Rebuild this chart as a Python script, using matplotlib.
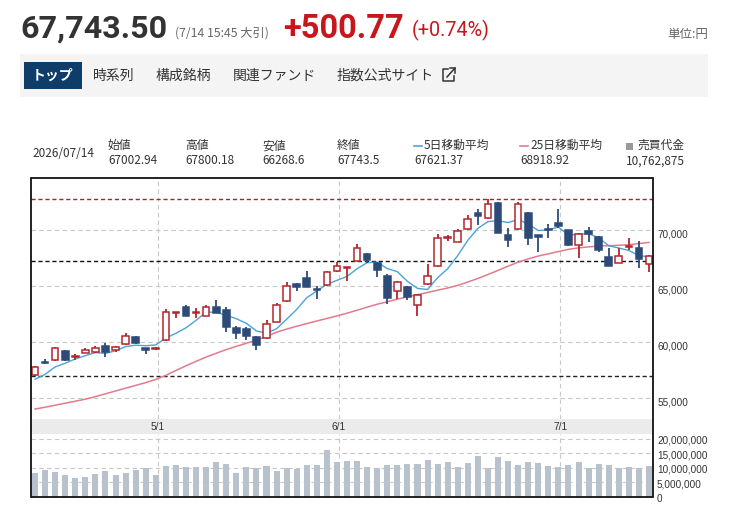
import matplotlib
matplotlib.use('Agg')
import matplotlib.pyplot as plt
from matplotlib.patches import Rectangle
from matplotlib.lines import Line2D
from matplotlib.transforms import ScaledTranslation
import numpy as np

# ---------------- data ----------------
opens = [57080, 58267, 58419, 59223, 58660, 59018, 59107, 59696, 59312, 59821,
         60500, 59464, 59428, 60205, 62589, 63125, 62589, 62321, 63178, 62884,
         61304, 61160, 60500, 60357, 61839, 63687, 65179, 65714, 64759, 65116,
         66339, 66661, 67259, 67857, 67107, 65920, 64580, 64911, 63303, 65179,
         66812, 69312, 68929, 70116, 71571, 71071, 72411, 69580, 70089, 71518,
         69580, 70116, 70696, 70027, 68687, 69938, 69429, 67643, 67107, 68482,
         68393, 67002.94]
highs = [57850, 58482, 59607, 59339, 58955, 59491, 59670, 59964, 59670, 60857,
         60562, 59464, 59607, 62973, 62678, 63357, 63035, 63357, 63776, 63125,
         61482, 61393, 60562, 61991, 63482, 65411, 65268, 66366, 65027, 66393,
         67170, 66723, 68777, 68000, 67196, 66098, 65500, 65027, 64312, 66991,
         69670, 69580, 70089, 71366, 71902, 72768, 72500, 70179, 72500, 71661,
         69580, 70562, 71902, 70071, 69732, 70250, 69518, 68464, 68393, 69286,
         69000, 67800.18]
lows = [56990, 58062, 58357, 58357, 58419, 59018, 59018, 58660, 59160, 59759,
        59821, 58955, 59312, 60142, 62143, 62375, 62143, 62321, 62589, 60946,
        60294, 60205, 59312, 60294, 61786, 63625, 64607, 64964, 63866, 65054,
        66303, 65473, 67259, 67054, 65857, 63393, 63866, 63777, 62348, 65116,
        66750, 69071, 68929, 70054, 70500, 70982, 69732, 68482, 70027, 68687,
        68036, 69312, 70232, 68625, 67553, 68955, 68089, 66812, 67107, 68241,
        66678, 66268.6]
closes = [57821, 58152, 59464, 58419, 58714, 59285, 59518, 59107, 59607, 60562,
          59910, 59285, 59464, 62732, 62616, 62375, 62616, 63178, 62589, 61339,
          60803, 60562, 59759, 61607, 63330, 65027, 64964, 64964, 64643, 66250,
          66839, 66723, 68393, 67348, 66455, 63982, 65357, 64071, 64196, 65946,
          69286, 69339, 69964, 70982, 71277, 72321, 69732, 69134, 72321, 69286,
          69429, 70027, 70402, 68687, 69670, 69714, 68214, 66812, 67705, 68536,
          67437, 67743.5]
ma5 = [56700, 57140, 57800, 58130, 58514, 58807, 59080, 59009, 59246, 59616,
       59741, 59694, 59766, 60391, 60801, 61294, 61961, 62703, 62675, 62419,
       62105, 61694, 61010, 60814, 61212, 62057, 62937, 63978, 64586, 65170,
       65532, 65884, 66570, 67111, 67152, 66580, 66307, 65443, 64812, 64710,
       65771, 66568, 67746, 69103, 70170, 70777, 70855, 70689, 70957, 70559,
       69980, 70039, 70293, 69566, 69643, 69700, 69337, 68619, 68423, 68196,
       67741, 67621.37]
ma25 = [54044, 54200, 54380, 54560, 54740, 54920, 55150, 55400, 55650, 55900,
        56150, 56400, 56680, 57050, 57480, 57900, 58300, 58680, 59020, 59350,
        59640, 59910, 60200, 60520, 60900, 61180, 61430, 61670, 61900, 62130,
        62350, 62600, 62860, 63140, 63400, 63620, 63850, 64060, 64250, 64450,
        64650, 64850, 65080, 65380, 65700, 66050, 66420, 66800, 67150, 67450,
        67700, 67900, 68100, 68300, 68430, 68520, 68590, 68630, 68660, 68710,
        68820, 68918.92]
volume = [8.4, 9.3, 8.7, 7.6, 6.6, 6.9, 7.9, 9.0, 7.6, 8.4,
          9.3, 10.0, 7.6, 10.7, 11.0, 10.3, 10.3, 10.3, 12.1, 11.4,
          8.3, 10.3, 9.9, 10.7, 9.0, 10.0, 9.8, 11.0, 11.0, 16.2,
          12.1, 12.4, 12.4, 10.3, 10.0, 11.0, 11.0, 11.4, 11.4, 12.8,
          11.4, 12.1, 10.3, 11.7, 14.1, 9.9, 13.8, 12.4, 11.0, 12.1,
          11.7, 10.7, 10.3, 11.0, 12.1, 9.9, 11.4, 11.0, 9.9, 10.3,
          10.0, 10.762875]  # millions
month_labels = ['5/1', '6/1', '7/1']
month_index = [12, 30, 52]
price_ticks = [55000, 60000, 65000, 70000]
volume_ticks = [0, 5, 10, 15, 20]  # millions
ref_high = 72790
ref_mid = 67260
ref_low = 56960

info_labels = ['始値', '高値', '安値', '終値', '5日移動平均', '25日移動平均', '売買代金']
info_values = ['67002.94', '67800.18', '66268.6', '67743.5', '67621.37', '68918.92', '10,762,875']
nav_items = ['時系列', '構成銘柄', '関連ファンド', '指数公式サイト']

# ---------------- style ----------------
RED = '#b3262b'
BLUE = '#2d4b78'
MA5C = '#4ba3d8'
MA25C = '#e27b8e'
VOLC = '#b7c2cc'
GRID = '#c8c8c8'
CJK = ['Noto Sans CJK JP', 'DejaVu Sans']

W, H = 730, 513
fig = plt.figure(figsize=(W / 100, H / 100), dpi=100)
fig.patch.set_facecolor('white')


def fx(px):
    return px / W


def fy(py):
    return 1 - py / H


L, R = 31, 653
ax = fig.add_axes([fx(L), fy(419), (R - L) / W, (419 - 178) / H])
axb = fig.add_axes([fx(L), fy(434), (R - L) / W, 15 / H])
axv = fig.add_axes([fx(L), fy(497), (R - L) / W, 63 / H])

n = len(closes)
x = np.arange(n)
xlim = (-0.4, 61.4)
for a in (ax, axb, axv):
    a.set_xlim(*xlim)
    a.set_xticks([])
    a.set_yticks([])
    for s in a.spines.values():
        s.set_visible(False)
    a.patch.set_alpha(0)

ax.set_ylim(53150, 74670)
axv.set_ylim(0, 21.7)
axb.set_ylim(0, 1)
axb.patch.set_alpha(1)
axb.set_facecolor('#ebebeb')

# grid
for t in price_ticks:
    ax.axhline(t, color=GRID, ls=(0, (4, 3)), lw=0.8, zorder=0)
for t in volume_ticks[1:]:
    axv.axhline(t, color=GRID, ls=(0, (4, 3)), lw=0.8, zorder=0)
for mi in month_index:
    ax.axvline(mi + 0.2, color=GRID, ls=(0, (4, 3)), lw=0.8, zorder=0)
    axv.axvline(mi + 0.2, color=GRID, ls=(0, (4, 3)), lw=0.8, zorder=0)

# reference dashed lines
ax.axhline(ref_high, color='#a0282d', ls=(0, (3, 2)), lw=1.0, zorder=1)
ax.axhline(ref_mid, color='#111111', ls=(0, (3, 2)), lw=1.0, zorder=1)
ax.axhline(ref_low, color='#222222', ls=(0, (3, 2)), lw=1.0, zorder=1)

# moving averages
ax.plot(x, ma25, color=MA25C, lw=1.1, zorder=2)
ax.plot(x, ma5, color=MA5C, lw=1.0, zorder=2)

# candles
o = np.array(opens, dtype=float)
c = np.array(closes, dtype=float)
hi = np.array(highs, dtype=float)
lo = np.array(lows, dtype=float)
up = c >= o
cols = [RED if u else BLUE for u in up]
ax.vlines(x, lo, hi, colors=cols, lw=1.3, zorder=3)
body_h = np.maximum(np.abs(c - o), 90)
body_b = np.minimum(o, c)
ax.bar(x, body_h, bottom=body_b, width=0.66,
       facecolor=['white' if u else BLUE for u in up],
       edgecolor=cols, linewidth=1.1, zorder=4)

# volume
axv.bar(x, volume, width=0.6, color=VOLC, zorder=2)

# month labels
for mi, lab in zip(month_index, month_labels):
    axb.text(mi + 0.2, 0.5, lab, ha='center', va='center', fontsize=7.3,
             family='Liberation Sans', color='#333333')

# right axis labels
off_p = ScaledTranslation(5 / 100, -4.7 / 100, fig.dpi_scale_trans)
for t in price_ticks:
    ax.text(1, t, f'{t:,}', transform=ax.get_yaxis_transform() + off_p,
            ha='left', va='center', fontsize=7.2, family='Liberation Sans',
            color='#333333', clip_on=False)
off_v = ScaledTranslation(4 / 100, -2.0 / 100, fig.dpi_scale_trans)
for t in volume_ticks:
    axv.text(1, t, f'{t * 1000000:,}', transform=axv.get_yaxis_transform() + off_v,
             ha='left', va='center', fontsize=7.2, family='Liberation Sans',
             color='#333333', clip_on=False)

# chart box
fig.patches.append(Rectangle((fx(L), fy(497)), (R - L) / W, (497 - 178) / H,
                             fill=False, edgecolor='#111111', lw=1.3,
                             transform=fig.transFigure, zorder=10))

# ---------------- header ----------------
fig.text(fx(20), fy(38), '67,743.50', fontsize=23.2, fontweight='bold',
         family='Roboto', color='#333333', va='baseline')
fig.text(fx(175), fy(37), '(7/14 15:45 大引)', fontsize=8.8, family=CJK,
         color='#666666', va='baseline')
fig.text(fx(283), fy(38), '+500.77', fontsize=23.5, fontweight='bold',
         family='Roboto', color='#c8161d', va='baseline')
fig.text(fx(412), fy(36), '(+0.74%)', fontsize=14.2, family='Roboto',
         color='#c8161d', va='baseline')
fig.text(fx(708), fy(38), '単位:円', fontsize=9, family=CJK,
         color='#666666', va='baseline', ha='right')

# nav bar
fig.patches.append(Rectangle((fx(20), fy(97)), (708 - 20) / W, 43 / H,
                             facecolor='#f4f4f4', edgecolor='none',
                             transform=fig.transFigure, zorder=0))
fig.patches.append(Rectangle((fx(24), fy(89)), 58 / W, 27 / H,
                             facecolor='#0f3d6a', edgecolor='none',
                             transform=fig.transFigure, zorder=1))
fig.text(fx(53), fy(75.5), 'トップ', fontsize=10, fontweight='bold', family=CJK,
         color='white', ha='center', va='center')
for px, item in zip([93, 156, 233, 337], nav_items):
    fig.text(fx(px), fy(75.5), item, fontsize=10, family=CJK,
             color='#333333', ha='left', va='center')
# external link icon
ix0, iy0 = 443, 69
fig.lines.append(Line2D([fx(ix0 + 5), fx(ix0), fx(ix0), fx(ix0 + 11), fx(ix0 + 11)],
                        [fy(iy0), fy(iy0), fy(iy0 + 12), fy(iy0 + 12), fy(iy0 + 7)],
                        transform=fig.transFigure, color='#333333', lw=1.1))
fig.lines.append(Line2D([fx(ix0 + 4), fx(ix0 + 12)], [fy(iy0 + 8), fy(iy0 - 1)],
                        transform=fig.transFigure, color='#333333', lw=1.1))
fig.lines.append(Line2D([fx(ix0 + 7), fx(ix0 + 12), fx(ix0 + 12)],
                        [fy(iy0 - 1), fy(iy0 - 1), fy(iy0 + 4)],
                        transform=fig.transFigure, color='#333333', lw=1.1))

# info row
fig.text(fx(32), fy(153.3), '2026/07/14', fontsize=8.5, family=CJK,
         color='#333333', va='center')
col_x = [108, 185, 262, 337, 414, 520, 626]
for i, (px, lab, val) in enumerate(zip(col_x, info_labels, info_values)):
    tx = px
    if i == 4 or i == 5:
        colr = MA5C if i == 4 else MA25C
        fig.lines.append(Line2D([fx(px), fx(px + 8)], [fy(145.7), fy(145.7)],
                                transform=fig.transFigure, color=colr, lw=1.2))
        tx = px + 10
    if i == 6:
        fig.patches.append(Rectangle((fx(px), fy(149.5)), 7 / W, 7 / H,
                                     facecolor='#999999', edgecolor='none',
                                     transform=fig.transFigure))
        tx = px + 11
    fig.text(fx(tx), fy(145.7), lab, fontsize=8.5, family=CJK,
             color='#333333', va='center')
    fig.text(fx(px), fy(160.7), val, fontsize=8.5, family=CJK,
             color='#333333', va='center')

fig.savefig('out.png', dpi=100)
